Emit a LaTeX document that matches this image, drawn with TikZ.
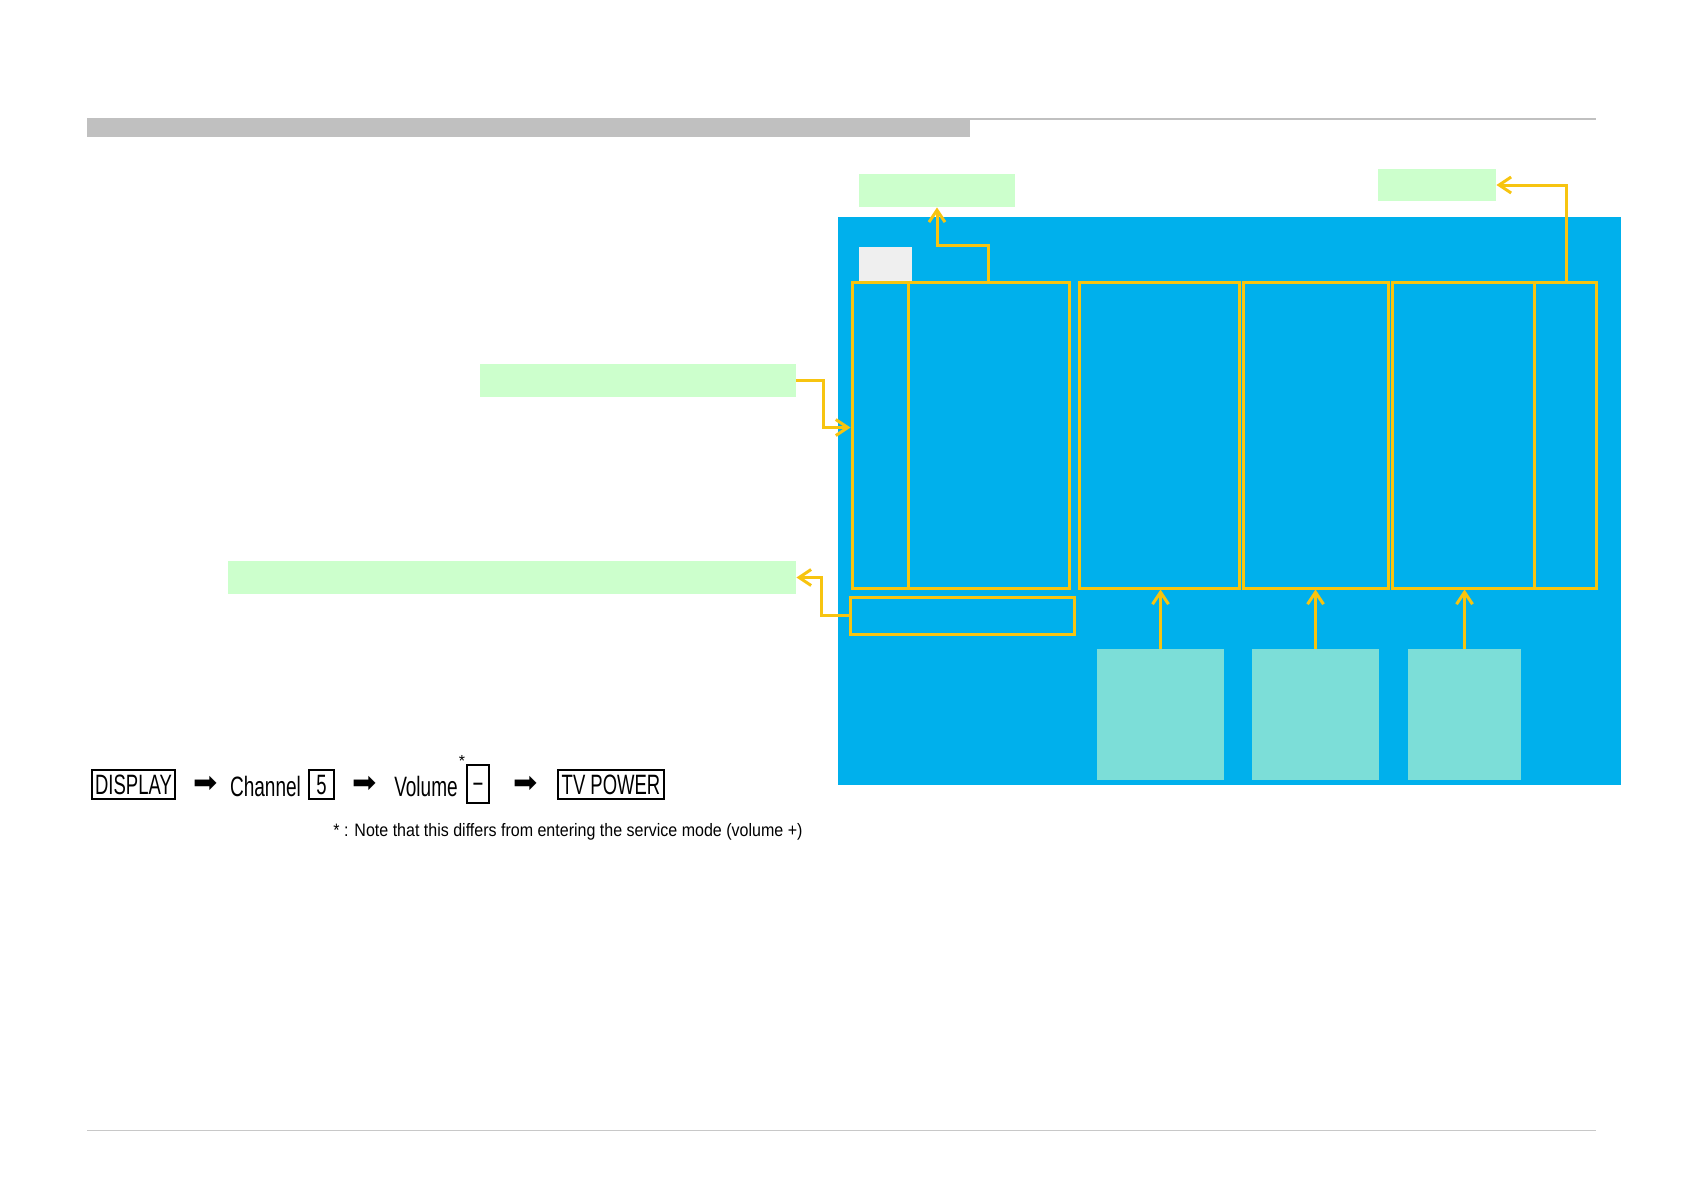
\documentclass[tikz,border=0pt]{standalone}
\usepackage{fontspec}
\setmainfont{Liberation Sans}
\newfontfamily\keyfont{Liberation Sans}[FakeStretch=0.66]
\newfontfamily\wordfont{Liberation Sans}[FakeStretch=0.68]
\newfontfamily\notefont{Liberation Sans}[FakeStretch=0.89]
\newfontfamily\symfont{DejaVu Sans}
\usetikzlibrary{arrows.meta,positioning}
\definecolor{panelblue}{RGB}{0,176,236}
\definecolor{notegreen}{RGB}{204,255,204}
\definecolor{softteal}{RGB}{124,222,216}
\definecolor{frameyellow}{RGB}{247,196,16}
\definecolor{bargray}{RGB}{192,192,192}
\definecolor{rulegray}{RGB}{200,200,200}
\definecolor{tabgray}{RGB}{239,239,239}

\begin{document}
\begin{tikzpicture}[x=0.5pt,y=-0.5pt,>={Straight Barb[length=6pt,width=8pt]},
  note/.style={fill=notegreen,inner sep=0pt,minimum height=16.5pt},
  frame/.style={draw=frameyellow,line width=1.5pt,inner sep=0pt,minimum height=153pt},
  slot/.style={fill=softteal,inner sep=0pt,minimum height=65.5pt},
  callout/.style={->,draw=frameyellow,line width=1.5pt},
  key/.style={draw,line width=0.75pt,inner sep=0pt,minimum height=14.5pt,font=\keyfont\fontsize{14}{16}\selectfont},
  word/.style={inner sep=0pt,font=\wordfont\fontsize{14}{16}\selectfont},
  go/.style={inner sep=0pt,font=\symfont\fontsize{14.5}{16}\selectfont}]
\useasboundingbox (0,0) rectangle (1684,1191);
% page rules
\draw[bargray,line width=1pt] (87,119) -- (1596,119);
\fill[bargray] (87,118) rectangle (970,137);
\draw[rulegray,line width=0.5pt] (87,1130) -- (1596,1130);

% screen
\node[fill=panelblue,minimum width=391.5pt,minimum height=284pt,inner sep=0pt] (screen) at (1229.5,501) {};
\node[fill=tabgray,minimum width=26.5pt,minimum height=17pt,inner sep=0pt] (tab) at (885.5,264) {};
\node[frame,minimum width=108.5pt] (f1) at (960.5,435) {};
\node[frame,minimum width=80pt] (f2) at (1159,435) {};
\node[frame,minimum width=72.5pt] (f3) at (1315.5,435) {};
\node[frame,minimum width=102pt] (f4) at (1494,435) {};
\node[frame,minimum width=112pt,minimum height=18.5pt] (f5) at (962,615.5) {};
\draw[frameyellow,line width=1.5pt] ([xshift=29pt]f1.north west) -- ([xshift=29pt]f1.south west);
\draw[frameyellow,line width=1.5pt] ([xshift=72pt]f4.north west) -- ([xshift=72pt]f4.south west);
\node[slot,minimum width=63.5pt] (t1) at (1160.5,714.5) {};
\node[slot,minimum width=63.5pt] (t2) at (1315.5,714.5) {};
\node[slot,minimum width=56.5pt] (t3) at (1464.5,714.5) {};

% green notes
\node[note,minimum width=78pt] (ga) at (937,190.5) {};
\node[note,minimum width=59pt,minimum height=16pt] (gb) at (1437,185) {};
\node[note,minimum width=158pt] (gc) at (638,380.5) {};
\node[note,minimum width=284pt] (gd) at (512,577.5) {};

% callouts
\draw[callout] ([xshift=13.75pt]f1.north) |- ([yshift=-19pt]ga.south) -- (ga.south);
\draw[callout] ([xshift=36pt]f4.north) |- (gb.east);
\draw[callout] (gc.east) -- ++(27,0) |- ([yshift=3.75pt]f1.west);
\draw[callout] (f5.west) -- ++(-27,0) |- (gd.east);
\draw[callout] (t1.north) -- (t1.north |- f2.south);
\draw[callout] (t2.north) -- (t2.north |- f3.south);
\draw[callout] (t3.north) -- (t3.north |- f4.south);

% key sequence
\node[key,minimum width=41.5pt] (display) at (133.5,784.5) {DISPLAY};
\node[go] (go1) at (206,784.5) {➡};
\node[word] (channel) at (265.5,786) {Channel};
\node[key,minimum width=11pt,minimum height=19pt] (voldown) at (478,784) {\raisebox{-4.5pt}[0pt][0pt]{−}};
\node[key,minimum width=12.5pt] (chfive) at (321.5,784.5) {5};
\node[go] (go2) at (364.5,784.5) {➡};
\node[word] (volume) at (426,786) {Volume};
\node[inner sep=0pt,font=\fontsize{8}{8}\selectfont] (star) at (462,761) {*};
\node[go] (go3) at (525.5,784.5) {➡};
\node[key,minimum width=53pt] (tvpower) at (611,784.5) {TV POWER};
\node[inner sep=0pt,anchor=west,font=\notefont\fontsize{9}{10}\selectfont] (footnote) at (333,832) {* : Note that this differs from entering the service mode (volume +)};
\end{tikzpicture}
\end{document}
